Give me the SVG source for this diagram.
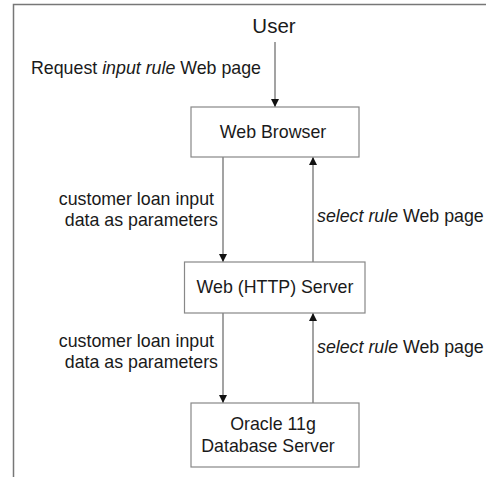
<svg xmlns="http://www.w3.org/2000/svg" width="486" height="477" viewBox="0 0 486 477">
  <style>
    text { font-family: "Liberation Sans", Arial, sans-serif; fill: #1a1a1a; }
    .lbl { font-size: 17.8px; }
    .box { fill: #fff; stroke: #888; stroke-width: 1.2; }
    .wire { stroke: #666; stroke-width: 1.2; fill: none; }
    .frame { stroke: #777; stroke-width: 1.5; fill: none; }
  </style>
  <defs>
    <marker id="arrow" viewBox="0 0 10 10" refX="10" refY="5" markerWidth="8" markerHeight="9" markerUnits="userSpaceOnUse" orient="auto">
      <path d="M0,0 L10,5 L0,10 z" fill="#111"/>
    </marker>
  </defs>
  <rect width="486" height="477" fill="#fff"/>
  <!-- page frame: top and left edges -->
  <path class="frame" d="M13.5,477 V4.5 H486"/>

  <text x="274" y="33" font-size="20.5" text-anchor="middle">User</text>

  <g id="connectors">
    <line class="wire" x1="275" y1="42" x2="275" y2="107" marker-end="url(#arrow)"/>
    <line class="wire" x1="223" y1="157" x2="223" y2="262" marker-end="url(#arrow)"/>
    <line class="wire" x1="313" y1="262" x2="313" y2="157" marker-end="url(#arrow)"/>
    <line class="wire" x1="223" y1="313" x2="223" y2="403" marker-end="url(#arrow)"/>
    <line class="wire" x1="313" y1="403" x2="313" y2="313" marker-end="url(#arrow)"/>
    <text class="lbl" x="31" y="74">Request <tspan font-style="italic">input rule</tspan> Web page</text>
    <text class="lbl" x="214" y="205" text-anchor="end">customer loan input</text>
    <text class="lbl" x="218" y="226" text-anchor="end">data as parameters</text>
    <text class="lbl" x="317" y="222"><tspan font-style="italic">select rule</tspan> Web page</text>
    <text class="lbl" x="214" y="347" text-anchor="end">customer loan input</text>
    <text class="lbl" x="218" y="368" text-anchor="end">data as parameters</text>
    <text class="lbl" x="317" y="353"><tspan font-style="italic">select rule</tspan> Web page</text>
  </g>

  <g id="web-browser">
    <rect class="box" x="191" y="107" width="168" height="50"/>
    <text class="lbl" x="273" y="138" text-anchor="middle">Web Browser</text>
  </g>

  <g id="http-server">
    <rect class="box" x="184.5" y="262" width="180.5" height="51"/>
    <text class="lbl" x="275" y="293" text-anchor="middle">Web (HTTP) Server</text>
  </g>

  <g id="database-server">
    <rect class="box" x="191" y="403" width="168" height="64"/>
    <text class="lbl" x="273" y="430" text-anchor="middle">Oracle 11g</text>
    <text class="lbl" x="268" y="452" text-anchor="middle">Database Server</text>
  </g>
</svg>
